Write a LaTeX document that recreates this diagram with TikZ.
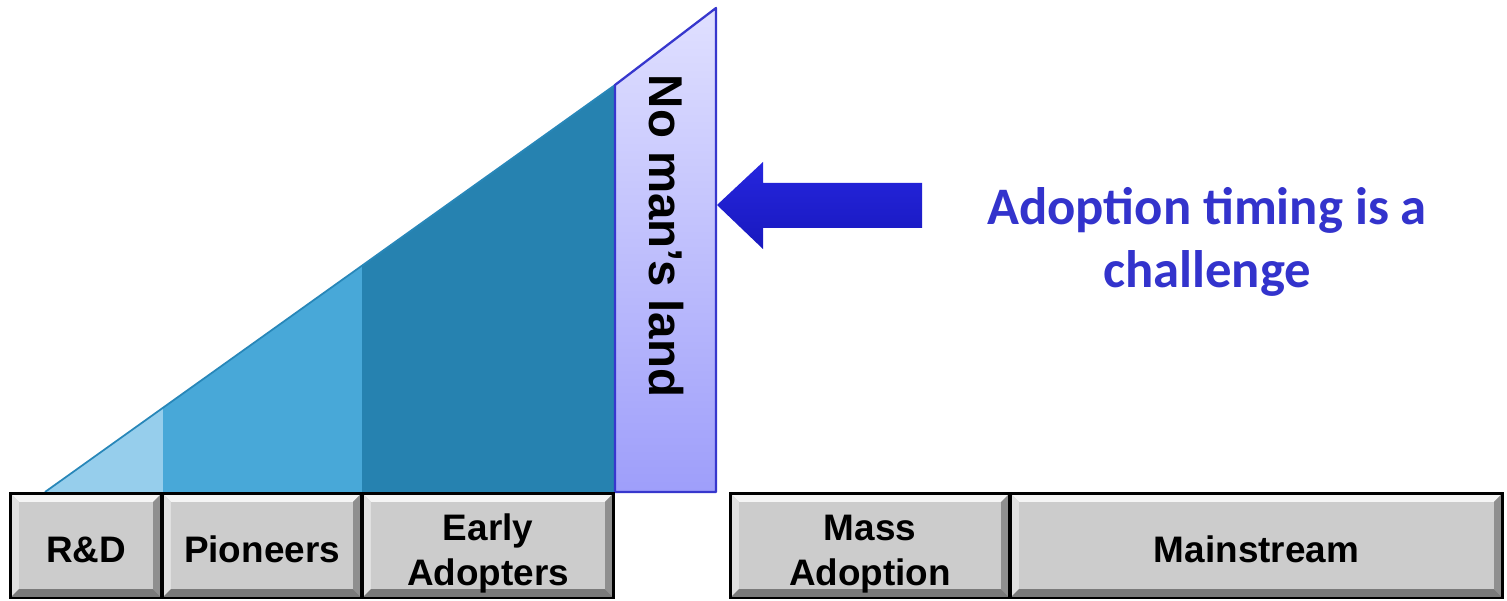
\documentclass[tikz,border=0pt]{standalone}
\usepackage{fontspec}
\setmainfont{Liberation Sans}
\newfontfamily\msgfont{Carlito}
\definecolor{rdblue}{RGB}{150,206,236}
\definecolor{pioblue}{RGB}{72,168,216}
\definecolor{earlyblue}{RGB}{38,130,176}
\definecolor{edgeblue}{RGB}{40,135,185}
\definecolor{nmltop}{RGB}{224,224,255}
\definecolor{nmlbot}{RGB}{158,158,250}
\definecolor{nmlline}{RGB}{55,55,205}
\definecolor{arrowtop}{RGB}{38,38,222}
\definecolor{arrowbot}{RGB}{24,24,190}
\definecolor{msgblue}{RGB}{51,51,204}
\definecolor{boxgray}{RGB}{204,204,204}
\tikzstyle{bevel}=[path picture={
  \fill[white!80!boxgray] (path picture bounding box.north west) -- (path picture bounding box.north east)
    -- ([shift={(-5pt,-5pt)}]path picture bounding box.north east) -- ([shift={(5pt,-5pt)}]path picture bounding box.north west) -- cycle;
  \fill[white!40!boxgray] (path picture bounding box.north west) -- ([shift={(5pt,-5pt)}]path picture bounding box.north west)
    -- ([shift={(5pt,5pt)}]path picture bounding box.south west) -- (path picture bounding box.south west) -- cycle;
  \fill[black!30!boxgray] (path picture bounding box.north east) -- ([shift={(-5pt,-5pt)}]path picture bounding box.north east)
    -- ([shift={(-5pt,5pt)}]path picture bounding box.south east) -- (path picture bounding box.south east) -- cycle;
  \fill[black!40!boxgray] (path picture bounding box.south west) -- ([shift={(5pt,5pt)}]path picture bounding box.south west)
    -- ([shift={(-5pt,5pt)}]path picture bounding box.south east) -- (path picture bounding box.south east) -- cycle;
}]
\tikzstyle{phase}=[draw=black,line width=1.7pt,fill=boxgray,bevel,inner sep=0pt,align=center,
  text height=1.39cm,text depth=0.71cm,font=\fontsize{21}{25.6}\selectfont\bfseries]
\tikzstyle{phase2}=[phase,text height=1.85cm,text depth=0.25cm]

\begin{document}
\begin{tikzpicture}[x=0.02cm,y=-0.02cm]
\useasboundingbox (0,0) rectangle (1507,601);
% adoption wedge
\fill[rdblue] (45,492) -- (163,408) -- (163,492) -- cycle;
\fill[pioblue] (163,408) -- (362,266) -- (362,492) -- (163,492) -- cycle;
\fill[earlyblue] (362,266) -- (615,85) -- (615,492) -- (362,492) -- cycle;
\draw[edgeblue,line width=1pt] (45,492) -- (615,85);
% no man's land
\shade[top color=nmltop,bottom color=nmlbot] (615,85) -- (716,8) -- (716,492) -- (615,492) -- cycle;
\draw[nmlline,line width=1.3pt,line join=round] (615,85) -- (716,8) -- (716,492) -- (615,492) -- cycle;
\node[rotate=-90,font=\fontsize{27}{32}\selectfont\bfseries] at (666, 236) (nml) {No man’s land};
% arrow
\shade[top color=arrowtop,bottom color=arrowbot] (717,205) -- (763,162) -- (763,183) -- (922,183) -- (922,228) -- (763,228) -- (763,249) -- cycle;
\node[text=msgblue,align=center,font=\msgfont\fontsize{30}{36}\selectfont\bfseries] at (1207, 242) (msg) {Adoption timing is a\\challenge};
% phases
\node[phase,minimum width=3.04cm] at (86, 545.5) (rd) {R\&D};
\node[phase,minimum width=4cm] at (262, 545.5) (pio) {Pioneers};
\node[phase2,minimum width=5.04cm] at (488, 545.5) (early) {Early\\Adopters};
\node[phase2,minimum width=5.6cm] at (870, 545.5) (mass) {Mass\\Adoption};
\node[phase,minimum width=9.86cm] at (1256.5, 545.5) (main) {Mainstream};
\end{tikzpicture}
\end{document}
